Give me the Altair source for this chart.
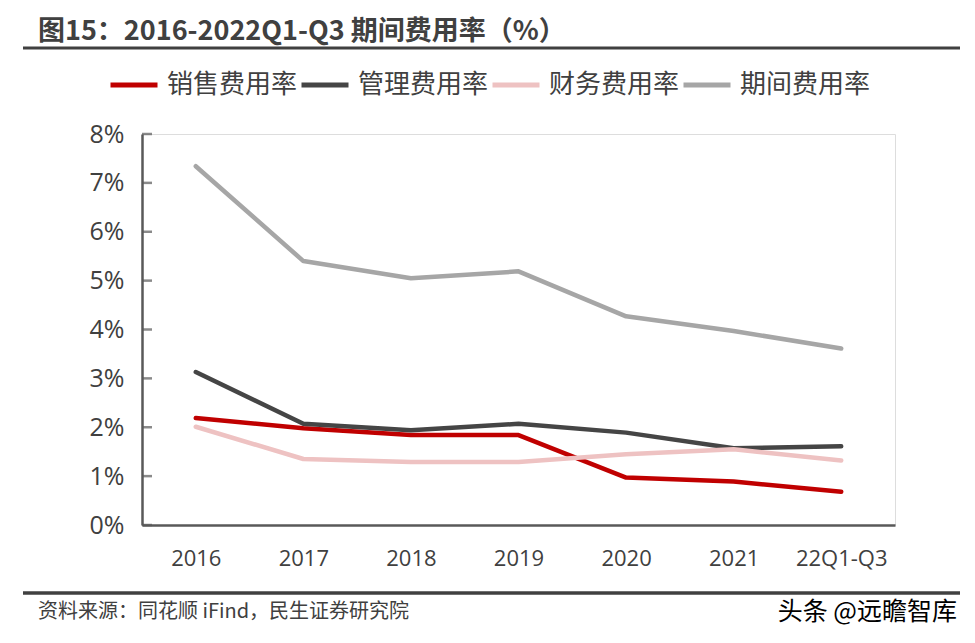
import altair as alt
import pandas as pd

categories = ["2016", "2017", "2018", "2019", "2020", "2021", "22Q1-Q3"]
series_names = ["销售费用率", "管理费用率", "财务费用率", "期间费用率"]
sales = [2.19, 1.98, 1.84, 1.84, 0.97, 0.89, 0.68]
admin = [3.13, 2.07, 1.94, 2.07, 1.89, 1.57, 1.61]
finance = [2.01, 1.35, 1.29, 1.29, 1.45, 1.55, 1.32]
period = [7.34, 5.40, 5.05, 5.19, 4.27, 3.97, 3.61]
colors = ["#C00000", "#454545", "#EEC2C2", "#A6A6A6"]
y_ticks = [0, 1, 2, 3, 4, 5, 6, 7, 8]

title_text = "图15：2016-2022Q1-Q3 期间费用率（%）"
source_text = "资料来源：同花顺 iFind，民生证券研究院"
watermark_text = "头条 @远瞻智库"

rows = []
for name, vals in zip(series_names, [sales, admin, finance, period]):
    for c, v in zip(categories, vals):
        rows.append({"cat": c, "v": v, "series": name})
df = pd.DataFrame(rows)

W, H = 753, 391
AX = "#595959"
CJK = "Noto Sans CJK SC"

x_enc = alt.X("cat:N", sort=categories, title=None,
              scale=alt.Scale(type="point", padding=0.5),
              axis=alt.Axis(labelAngle=0, ticks=False, domainColor=AX, domainWidth=2.5,
                            labelFont="Open Sans", labelFontSize=22, labelColor="#404040",
                            labelPadding=23, grid=False))
y_scale = alt.Scale(domain=[0, 8], nice=False)

lines = alt.Chart(df).mark_line(strokeWidth=4.5, strokeCap="round", strokeJoin="round").encode(
    x=x_enc,
    y=alt.Y("v:Q", scale=y_scale, title=None,
            axis=alt.Axis(values=y_ticks, labelExpr="datum.value + '%'", ticks=False,
                          domainColor=AX, domainWidth=2.5, labelFont="Open Sans",
                          labelFontSize=25, labelColor="#404040", labelPadding=18, grid=False)),
    color=alt.Color("series:N", sort=series_names,
                    scale=alt.Scale(domain=series_names, range=colors),
                    legend=alt.Legend(orient="none", legendX=-34, legendY=-75,
                                      direction="horizontal", title=None,
                                      symbolType="stroke", symbolStrokeWidth=5,
                                      symbolSize=2209, labelFontSize=26, labelFont=CJK,
                                      labelColor="#404040", labelOffset=7,
                                      columnPadding=-7, padding=0)),
)

tick_df = pd.DataFrame({"v": y_ticks})
ticks = alt.Chart(tick_df).mark_tick(orient="horizontal", size=10, thickness=2.5, color=AX).encode(
    y=alt.Y("v:Q", scale=y_scale, title=None),
    x=alt.value(5),
)

title = alt.Chart(pd.DataFrame({"t": [title_text]})).mark_text(
    align="left", baseline="middle", font=CJK, fontSize=27, fontWeight="bold", color="#404040"
).encode(text="t:N", x=alt.value(-104), y=alt.value(-102))

title_rule = alt.Chart(pd.DataFrame({"a": [0]})).mark_rule(color="#404040", strokeWidth=3).encode(
    x=alt.value(-119), x2=alt.value(818), y=alt.value(-86))

foot_rule = alt.Chart(pd.DataFrame({"a": [0]})).mark_rule(color="#404040", strokeWidth=3.5).encode(
    x=alt.value(-119), x2=alt.value(818), y=alt.value(459))

source = alt.Chart(pd.DataFrame({"t": [source_text]})).mark_text(
    align="left", baseline="middle", font=CJK, fontSize=20, color="#404040"
).encode(text="t:N", x=alt.value(-104), y=alt.value(478))

watermark = alt.Chart(pd.DataFrame({"t": [watermark_text]})).mark_text(
    align="right", baseline="middle", font=CJK, fontSize=25, color="#000000"
).encode(text="t:N", x=alt.value(815), y=alt.value(478))

chart = alt.layer(lines, ticks, title, title_rule, foot_rule, source, watermark).properties(
    width=W, height=H,
    autosize=alt.AutoSizeParams(type="none"),
    padding={"left": 134, "top": 126, "right": 72, "bottom": 110},
).configure_view(stroke=None).configure(background="white")

chart.save("out.html", embed_options={"renderer": "svg", "actions": False})
